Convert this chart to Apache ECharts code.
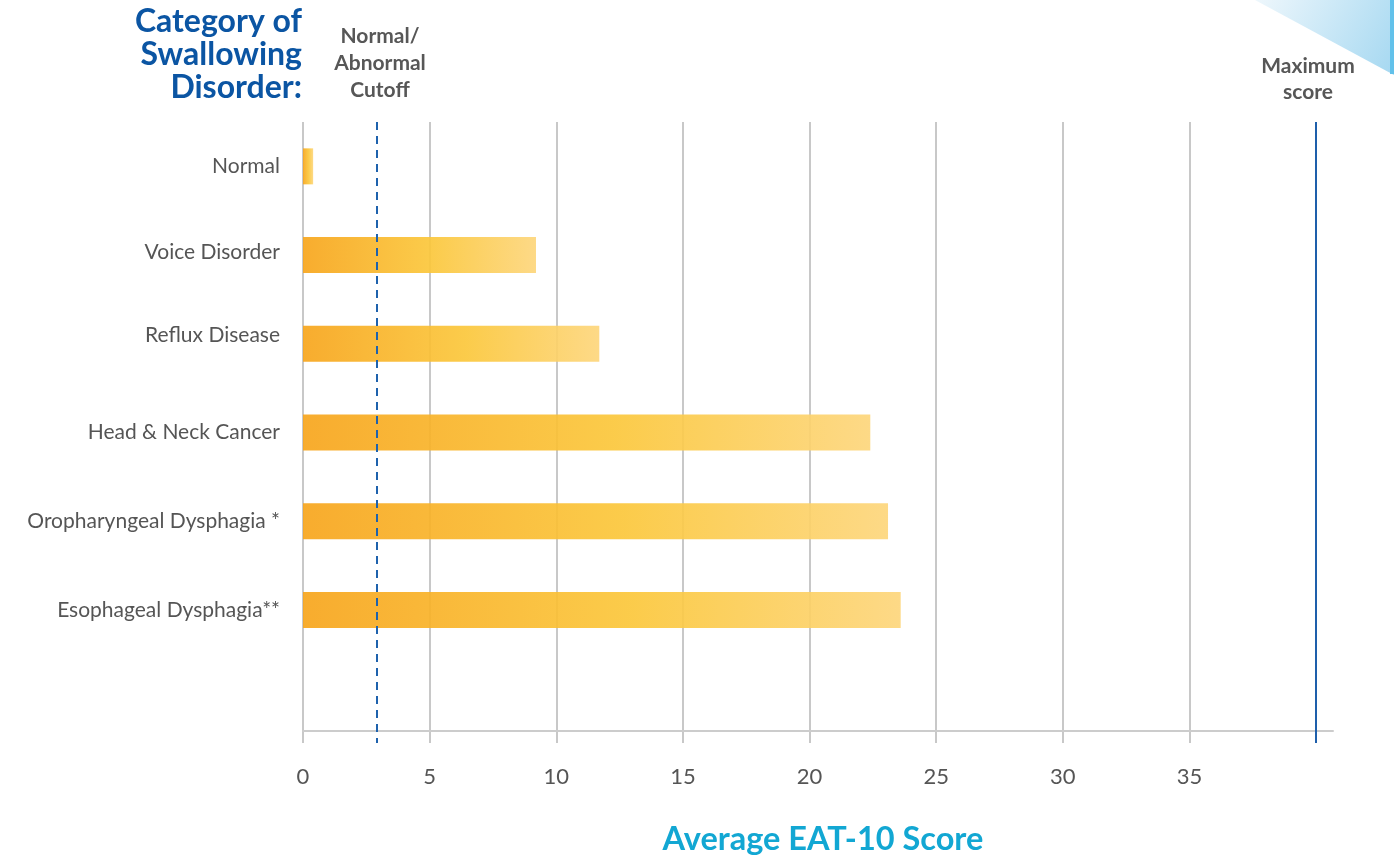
<!DOCTYPE html>
<html>
<head>
<meta charset="utf-8">
<script src="https://cdn.jsdelivr.net/npm/echarts@6/dist/echarts.min.js"></script>
<style>
html,body{margin:0;padding:0;background:#fff;}
#chart{width:1394px;height:858px;}
</style>
</head>
<body>
<div id="chart"></div>
<script>
// ---- data ----
const categories = ['Normal', 'Voice Disorder', 'Reflux Disease', 'Head & Neck Cancer', 'Oropharyngeal Dysphagia *', 'Esophageal Dysphagia**', ''];
const scores = [0.4, 9.2, 11.7, 22.4, 23.1, 23.6, null];
const cutoffScore = 2.9;
const maxScore = 40;
const xTickValues = [0, 5, 10, 15, 20, 25, 30, 35];

// small vertical nudges of some category labels (px, upward), as in the original artwork
const labelLift = {'Voice Disorder': 3, 'Reflux Disease': 9};

const chart = echarts.init(document.getElementById('chart'), null, {renderer: 'canvas'});
const FONT = 'Lato, "Open Sans", sans-serif';

const rich = {t: {fontFamily: FONT, fontSize: 21, color: '#555555', lineHeight: 24}};
Object.keys(labelLift).forEach(function (k, i) {
  rich['g' + i] = {fontSize: 1, lineHeight: labelLift[k] * 2};
});

const option = {
  animation: false,
  backgroundColor: '#ffffff',
  grid: {left: 303, right: 61, top: 122, bottom: 115, outerBoundsMode: 'none', containLabel: false},
  xAxis: {
    type: 'value',
    min: 0,
    max: 40.67,
    interval: 5,
    offset: -12,
    axisLine: {show: true, lineStyle: {color: '#cccccc', width: 2}},
    axisTick: {show: false},
    splitLine: {show: true, showMaxLine: false, lineStyle: {color: '#c8c8c8', width: 2}},
    axisLabel: {
      margin: 35,
      color: '#555555',
      fontFamily: FONT,
      fontSize: 22,
      formatter: function (v) { return xTickValues.indexOf(v) >= 0 ? String(v) : ''; }
    }
  },
  yAxis: {
    type: 'category',
    inverse: true,
    data: categories,
    axisLine: {show: false},
    axisTick: {show: false},
    splitLine: {show: false},
    axisLabel: {
      margin: 23, color: '#555555', fontFamily: FONT, fontSize: 21,
      formatter: function (v) {
        if (!v) return '';
        const keys = Object.keys(labelLift);
        const i = keys.indexOf(v);
        return i >= 0 ? '{t|' + v + '}\n{g' + i + '| }' : '{t|' + v + '}';
      },
      rich: rich
    }
  },
  series: [{
    type: 'bar',
    data: scores,
    barWidth: 36,
    itemStyle: {
      opacity: 0.92,
      color: new echarts.graphic.LinearGradient(0, 0, 1, 0, [
        {offset: 0, color: '#f7a51c'},
        {offset: 0.55, color: '#fbc73b'},
        {offset: 1, color: '#fdd67c'}
      ])
    },
    markLine: {
      silent: true,
      symbol: 'none',
      label: {show: false},
      data: [
        {xAxis: cutoffScore, lineStyle: {color: '#1e62ad', width: 2, type: [8, 6]}},
        {xAxis: maxScore, lineStyle: {color: '#1e5fab', width: 2, type: 'solid'}}
      ]
    }
  }],
  graphic: [
    {
      type: 'polygon', silent: true,
      shape: {points: [[1255, 0], [1394, 0], [1394, 75]]},
      style: {fill: new echarts.graphic.LinearGradient(0, 0, 1, 1, [
        {offset: 0, color: '#eef7fc'}, {offset: 1, color: '#a5d8f1'}
      ])}
    },
    {
      type: 'rect', silent: true,
      shape: {x: 1390, y: 0, width: 4, height: 74},
      style: {fill: '#62c1ea'}
    },
    {
      type: 'text', silent: true,
      style: {text: 'Category of\nSwallowing\nDisorder:', x: 302, y: 5, align: 'right', verticalAlign: 'top',
        font: 'bold 32px ' + FONT, lineHeight: 33, fill: '#0b55a3'}
    },
    {
      type: 'text', silent: true,
      style: {text: 'Normal/\nAbnormal\nCutoff', x: 380, y: 23, align: 'center', verticalAlign: 'top',
        font: 'bold 21px ' + FONT, lineHeight: 27, fill: '#575757'}
    },
    {
      type: 'text', silent: true,
      style: {text: 'Maximum\nscore', x: 1308, y: 53, align: 'center', verticalAlign: 'top',
        font: 'bold 21px ' + FONT, lineHeight: 26, fill: '#575757'}
    },
    {
      type: 'text', silent: true,
      style: {text: 'Average EAT-10 Score', x: 823, y: 840, align: 'center', verticalAlign: 'middle',
        font: 'bold 32.5px ' + FONT, fill: '#12a7d3'}
    }
  ]
};
chart.setOption(option);
</script>
</body>
</html>
